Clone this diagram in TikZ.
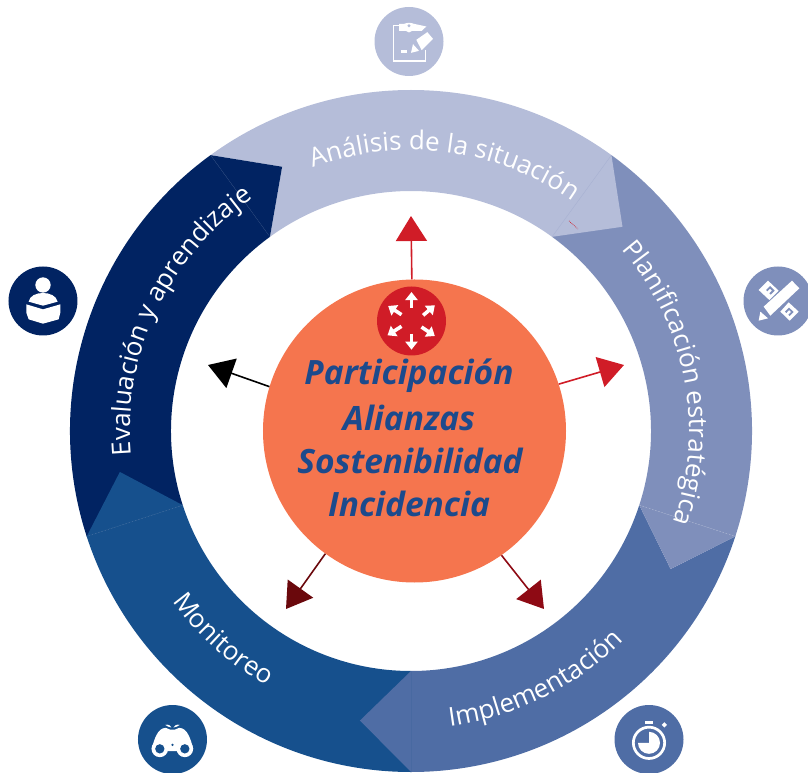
\documentclass[tikz,border=0pt]{standalone}
\usepackage{fontspec}
\setmainfont{Open Sans}
\usetikzlibrary{arrows.meta,decorations.text}
\definecolor{segA}{HTML}{B5BDD9}
\definecolor{segB}{HTML}{7F8FBB}
\definecolor{segC}{HTML}{4F6DA5}
\definecolor{segD}{HTML}{16508D}
\definecolor{segE}{HTML}{012362}
\definecolor{coreC}{HTML}{F5754E}
\definecolor{redC}{HTML}{D01C27}
\definecolor{redD}{HTML}{8E0A14}
\definecolor{redE}{HTML}{6A080C}
\definecolor{coreT}{HTML}{1C4A8C}
\tikzset{
  x=1pt,y=1pt,
  ringtxt/.style={white,decorate,decoration={text along path,text align=center,raise=0pt,
     text={|\fontsize{26}{26}\selectfont\color{white}|#1}}},
  spoke/.style={line width=1.6pt,-{Triangle[length=25pt,width=31pt]}},
  iconbg/.style={circle,minimum size=69pt,inner sep=0pt,draw=none},
  smallarr/.style={white,line width=3.6pt,-{Triangle[length=8pt,width=12pt]}},
  coretxt/.style={text=coreT,font=\fontsize{33.5}{33.5}\selectfont\bfseries\itshape,inner sep=0pt},
}
\begin{document}
\begin{tikzpicture}
\useasboundingbox (-411,-342) rectangle (397,431);
% ring: first the lower layers, each tip lies on the next segment
\fill[segE] (126:341) arc[start angle=126,end angle=198,radius=341] -- (198:240) arc[start angle=198,end angle=126,radius=240] -- cycle;
\fill[segB] (54:341) arc[start angle=54,end angle=-18,radius=341] -- (-18:240) arc[start angle=-18,end angle=54,radius=240] -- cycle;
\fill[segA] (126:341) arc[start angle=126,end angle=54,radius=341] -- (44:294) -- (54:240) arc[start angle=54,end angle=126,radius=240] -- (116:294) -- cycle;
\fill[segE] (126:341) -- (116:294) -- (126:240) -- cycle;
\fill[segC] (-18:341) arc[start angle=-18,end angle=-90,radius=341] -- (-90:240) arc[start angle=-90,end angle=-18,radius=240] -- (-28:294) -- cycle;
\fill[segB] (-18:341) -- (-28:294) -- (-18:240) -- cycle;
\fill[segD] (-90:341) arc[start angle=270,end angle=198,radius=341] -- (198:240) arc[start angle=198,end angle=270,radius=240] -- cycle;
\fill[segC] (-90:341) -- (-100:294) -- (-90:240) -- cycle;
\fill[segD] (198:341) -- (188:294) -- (198:240) -- cycle;
% faint seams
\draw[segE!88!white,line width=.4pt] (126:341) -- (126:240);
\draw[segB!25!segA,line width=.4pt] (54:341) -- (54:240);
\draw[segB!70!white,line width=.5pt,densely dotted] (-18:341) -- (-18:240);
\draw[segD!80!white,line width=.5pt,densely dotted] (198:341) -- (198:240);
\draw[redC,line width=.7pt,densely dotted] (158,210) -- (167,202);
% ring labels
\path[ringtxt={Análisis de la situación}] (111.7:281) arc[start angle=111.7,end angle=53.7,radius=281];
\path[ringtxt={Planificación estratégica}] (47.3:278) arc[start angle=47.3,end angle=-25.7,radius=278];
\path[ringtxt={Implementación}] (-98.5:298) arc[start angle=-98.5,end angle=-28.5,radius=298];
\path[ringtxt={Monitoreo}] (198:293) arc[start angle=198,end angle=258,radius=293];
\path[ringtxt={Evaluación y aprendizaje}] (190.6:281) arc[start angle=190.6,end angle=118.6,radius=281];
% core
\node[circle,fill=coreC,minimum size=303pt,inner sep=0pt] (core) at (3.5,0) {};
\coordinate (tipN) at (0,215);
\coordinate (tipE) at (213,66);
\coordinate (tipW) at (-203,66);
\coordinate (tipSE) at (133,-178);
\coordinate (tipSW) at (-125,-178);
\draw[spoke,redC] (core.91.32) -- (tipN);
\draw[spoke,redC] (core.18) -- (tipE);
\draw[spoke,black] (core.163) -- (tipW);
\draw[spoke,redD] (core.-55) -- (tipSE);
\draw[spoke,redE] (core.-126) -- (tipSW);
\node[coretxt] (t1) at (-2,55) {Participación};
\node[coretxt] (t2) at (-2,13) {Alianzas};
\node[coretxt] (t3) at (-1,-30) {Sostenibilidad};
\node[coretxt] (t4) at (-2,-73) {Incidencia};
% red hub
\node[circle,fill=redC,minimum size=69pt,inner sep=0pt] (hub) at (0.5,110) {};
\begin{scope}[shift={(hub.center)},x=.3333pt,y=-.3333pt]
 \draw[smallarr] (0,-39) -- (0,-87);
 \draw[smallarr] (35,-17) -- (70,-47);
 \draw[smallarr] (30,18) -- (70,45);
 \draw[smallarr] (0,38) -- (0,86);
 \draw[smallarr] (-30,16) -- (-72,43);
 \draw[smallarr] (-30,-19) -- (-70,-45);
\end{scope}
% icon: clipboard
\node[iconbg,fill=segA] (i1) at (-2,389.5) {};
\begin{scope}[shift={(i1.center)},x=.3333pt,y=-.3333pt]
 \draw[white,line width=1.6pt] (50,25) -- (50,58) -- (-47,58) -- (-47,-48) -- (-25,-48);
 \fill[white] (-30,-53) -- (-15,-53) to[bend left=20] (15,-53) -- (52,-45) -- (38,-32) -- (10,-32) -- (0,-27) -- (-10,-32) -- (-30,-32) -- cycle;
 \fill[segA] (0,-47) circle[radius=5];
 \fill[white] (-25,26) rectangle (-5,36);
 \fill[white] (22,-5) -- (55,-28) -- (72,-8) -- (38,26) -- cycle;
 \fill[white] (6,34) -- (12,8) -- (30,28) -- cycle;
\end{scope}
% icon: pencil and rulers
\node[iconbg,fill=segB] (i2) at (367,130) {};
\begin{scope}[shift={(i2.center)},x=.3333pt,y=-.3333pt]
 \fill[white] (-43,17) -- (42,-61) -- (64,-38) -- (-23,44) -- cycle;
 \fill[white] (-58,59) -- (-53,32) -- (-30,52) -- cycle;
 \fill[white] (-58,-33) -- (-30,-61) -- (2,-31) -- (-26,-3) -- cycle;
 \fill[white] (7,32) -- (32,4) -- (62,32) -- (35,59) -- cycle;
 \fill[segB] (-36,-33) -- (-24,-45) -- (-10,-31) -- (-22,-19) -- (-26,-23) -- (-18,-31) -- (-24,-37) -- (-32,-29) -- cycle;
 \fill[segB] (21,32) -- (33,20) -- (47,33) -- (35,45) -- (31,41) -- (39,33) -- (33,27) -- (25,36) -- cycle;
\end{scope}
% icon: reader
\node[iconbg,fill=segE] (i3) at (-368,130) {};
\begin{scope}[shift={(i3.center)},x=.3333pt,y=-.3333pt]
 \fill[white] (0,-48) circle[radius=23];
 \fill[white] (-43,2) .. controls (-40,-16) and (-20,-24) .. (0,-24) .. controls (20,-24) and (40,-16) .. (44,2) -- (0,14) -- cycle;
 \fill[white] (-50,10) -- (0,25) -- (52,10) -- (52,35) -- (47,55) -- (0,68) -- (-43,55) -- (-50,35) -- cycle;
\end{scope}
% icon: binoculars
\node[iconbg,fill=segD] (i4) at (-238.5,-308.5) {};
\begin{scope}[shift={(i4.center)},x=.3333pt,y=-.3333pt]
 \fill[white] (-38,28) circle[radius=25];
 \fill[white] (37,28) circle[radius=25];
 \fill[white] (-62,28) .. controls (-55,0) and (-45,-35) .. (-20,-35) -- (-8,-30) -- (8,-30) -- (20,-35) .. controls (45,-35) and (55,0) .. (62,28) -- (10,35) -- (-10,35) -- cycle;
 \fill[segD] (-38,28) circle[radius=14];
 \fill[segD] (37,28) circle[radius=14];
 \fill[segD] (0,16) circle[radius=4];
 \fill[white] (-22,-44) .. controls (-12,-46) and (-6,-42) .. (-3,-36) .. controls (-10,-38) and (-16,-38) .. (-22,-44) -- cycle;
 \fill[white] (22,-44) .. controls (12,-46) and (6,-42) .. (3,-36) .. controls (10,-38) and (16,-38) .. (22,-44) -- cycle;
\end{scope}
% icon: stopwatch
\node[iconbg,fill=segC] (i5) at (238,-308.5) {};
\begin{scope}[shift={(i5.center)},x=.3333pt,y=-.3333pt]
 \draw[white,line width=2.7pt] (0,10) circle[radius=47];
 \fill[white] (-11,-57) rectangle (11,-46);
 \fill[white] (46,-52) -- (54,-44) -- (46,-36) -- (38,-44) -- cycle;
 \fill[white] (0,10) -- (0,-23) arc[start angle=-90,end angle=180,radius=33] -- cycle;
\end{scope}
\end{tikzpicture}
\end{document}
